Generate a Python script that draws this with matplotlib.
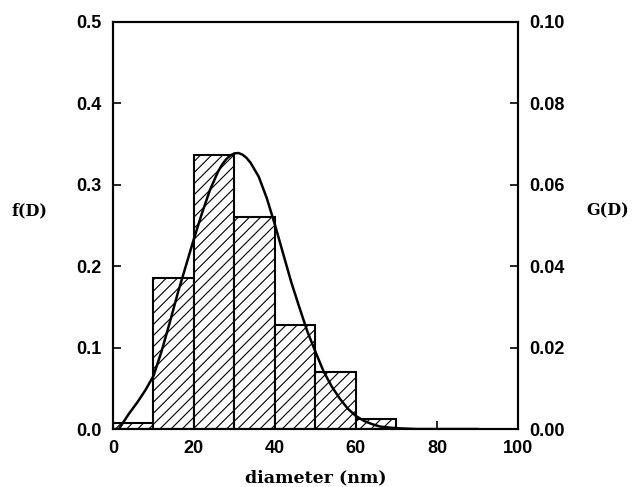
import matplotlib
matplotlib.use("Agg")
import matplotlib.pyplot as plt
import numpy as np

# Histogram data (left axis, f(D))
bin_left = [0, 10, 20, 30, 40, 50, 60]
bin_width = 10
f_values = [0.007, 0.186, 0.337, 0.261, 0.128, 0.070, 0.012]

# Fitted distribution curve (right axis, G(D))
curve_D = [1.5, 2, 4, 6, 8, 10, 12, 14, 16, 18, 20, 22, 24, 26, 27, 28, 29, 30,
           31, 32, 33, 34, 36, 38, 40, 42, 44, 46, 48, 50, 52, 54, 56, 58, 60,
           62, 64, 66, 70, 75, 80, 90]
curve_G = [0.0, 0.0008, 0.0038, 0.0065, 0.0095, 0.0130, 0.0190, 0.0260, 0.0333,
           0.0400, 0.0467, 0.0530, 0.0588, 0.0633, 0.0650, 0.0663, 0.0672, 0.0677,
           0.0678, 0.0674, 0.0666, 0.0654, 0.0620, 0.0567, 0.0502, 0.0432, 0.0362,
           0.0300, 0.0240, 0.0190, 0.0142, 0.0105, 0.0075, 0.0050, 0.0032,
           0.0020, 0.0012, 0.0006, 0.0002, 0.0, 0.0, 0.0]

x_ticks = [0, 20, 40, 60, 80, 100]
left_ticks = [0.0, 0.1, 0.2, 0.3, 0.4, 0.5]
right_ticks = [0.00, 0.02, 0.04, 0.06, 0.08, 0.10]

plt.rcParams['hatch.linewidth'] = 0.8
fig = plt.figure(figsize=(6.34, 4.87), dpi=100)
ax = fig.add_axes([0.178, 0.119, 0.639, 0.836])

ax.bar(bin_left, f_values, width=bin_width, align='edge', facecolor='white',
       edgecolor='black', linewidth=1.5, hatch='///', zorder=2)
ax.set_xlim(0, 100)
ax.set_ylim(0, 0.5)
ax.set_xticks(x_ticks)
ax.set_yticks(left_ticks)
ax.set_yticklabels([f"{v:.1f}" for v in left_ticks])

ax2 = ax.twinx()
ax2.plot(curve_D, curve_G, color='black', linewidth=1.8, zorder=3,
         solid_joinstyle='round')
ax2.set_ylim(0, 0.1)
ax2.set_yticks(right_ticks)
ax2.set_yticklabels([f"{v:.2f}" for v in right_ticks])

for a in (ax, ax2):
    for s in a.spines.values():
        s.set_linewidth(1.5)
    a.tick_params(direction='in', length=6, width=1.2, pad=8)
    for lab in a.get_xticklabels() + a.get_yticklabels():
        lab.set_fontfamily('Liberation Sans')
        lab.set_fontweight('bold')
        lab.set_fontsize(13)

lab_font = dict(family='DejaVu Serif', weight='bold', size=12.5)
side_font = dict(family='DejaVu Serif', weight='bold', size=11.5)
ax.set_xlabel('diameter (nm)', fontdict=lab_font, labelpad=9)
fig.text(0.046, 0.566, 'f(D)', ha='center', va='center', fontdict=side_font)
fig.text(0.958, 0.566, 'G(D)', ha='center', va='center', fontdict=side_font)

fig.savefig('out.png', dpi=100)
